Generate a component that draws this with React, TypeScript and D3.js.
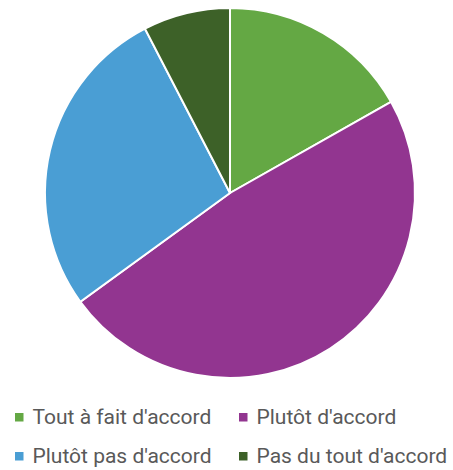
import React from "react";
import * as d3 from "d3";

const categories = ["Tout à fait d'accord", "Plutôt d'accord", "Plutôt pas d'accord", "Pas du tout d'accord"];
const values = [16.8, 48.2, 27.4, 7.6];
const colors = ["#64A844", "#923590", "#4A9ED4", "#3D6128"];

export default function App() {
  const W = 453, H = 470;
  const cx = 230, cy = 193, r = 185;
  const pie = d3.pie<number>().sort(null).value((d) => d)(values);
  const arc = d3.arc<d3.PieArcDatum<number>>().innerRadius(0).outerRadius(r);
  const legendPos = [
    { x: 15, y: 424 },
    { x: 239, y: 424 },
    { x: 15, y: 463 },
    { x: 239, y: 463 },
  ];
  return (
    <svg width={W} height={H} style={{ position: "absolute", left: 0, top: 0 }}>
      <rect width={W} height={H} fill="#fff" />
      <g transform={`translate(${cx},${cy})`}>
        {pie.map((p, i) => (
          <path key={i} d={arc(p) || ""} fill={colors[i]} stroke="#fff" strokeWidth={2} />
        ))}
      </g>
      {categories.map((c, i) => (
        <g key={c} transform={`translate(${legendPos[i].x},${legendPos[i].y})`}>
          <rect x={0} y={-11} width={8.5} height={8.5} fill={colors[i]} />
          <text x={17.5} y={0} fontSize={21} fill="#595959" fontFamily="Roboto, sans-serif">
            {c}
          </text>
        </g>
      ))}
    </svg>
  );
}
